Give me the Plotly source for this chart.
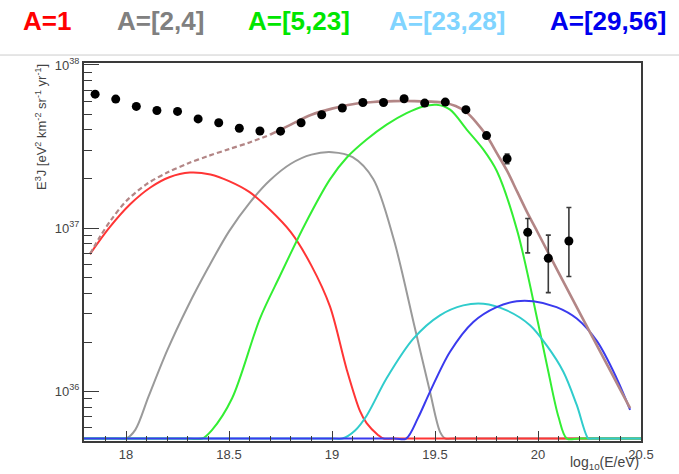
import numpy as np
import plotly.graph_objects as go

# ---------------- data ----------------
# measured points: log10(E/eV), E^3 J
data_x = [17.85, 17.95, 18.05, 18.15, 18.25, 18.35, 18.45, 18.55, 18.65, 18.75,
          18.85, 18.95, 19.05, 19.15, 19.25, 19.35, 19.45, 19.55, 19.65, 19.75,
          19.85, 19.95, 20.05, 20.15]
data_y = [6.62e37, 6.18e37, 5.57e37, 5.26e37, 5.19e37, 4.67e37, 4.42e37, 4.09e37, 3.94e37, 3.93e37,
          4.42e37, 4.95e37, 5.45e37, 5.89e37, 5.89e37, 6.21e37, 5.84e37, 5.92e37, 5.32e37, 3.69e37,
          2.66e37, 9.42e36, 6.53e36, 8.34e36]
data_err_up = [0, 0, 0, 0, 0, 0, 0, 0, 0, 0,
               0, 0, 0, 0, 0, 0, 0, 0, 0, 0,
               1.8e36, 2.04e36, 2.53e36, 5.03e36]
data_err_dn = [0, 0, 0, 0, 0, 0, 0, 0, 0, 0,
               0, 0, 0, 0, 0, 0, 0, 0, 0, 0,
               1.8e36, 2.37e36, 2.51e36, 3.29e36]

# model components (0 = below the plotted range)
red_x = [17.825, 17.92, 18.02, 18.12, 18.21, 18.31, 18.41, 18.50, 18.60, 18.70, 18.80,
         18.90, 18.99, 19.07, 19.136, 19.168, 19.223, 19.25, 19.30, 20.5]
red_y = [6.93e36, 1.01e37, 1.40e37, 1.78e37, 2.05e37, 2.19e37, 2.13e37, 1.94e37, 1.66e37,
         1.29e37, 9.44e36, 5.89e36, 3.31e36, 1.38e36, 7.55e35, 6.38e35, 5.40e35, 0, 0, 0]

gray_x = [17.795, 17.95, 18.0, 18.045, 18.11, 18.2, 18.3, 18.4, 18.5, 18.6, 18.7, 18.8,
          18.9, 19.0, 19.1, 19.2, 19.3, 19.4, 19.475, 19.525, 19.55, 19.6, 20.5]
gray_y = [0, 0, 0, 5.8e35, 9.33e35, 1.78e36, 3.31e36, 5.75e36, 9.55e36, 1.43e37, 1.97e37, 2.48e37,
          2.82e37, 2.92e37, 2.72e37, 2.0e37, 8.51e36, 2.51e36, 1.0e36, 5.62e35, 0, 0, 0]

green_x = [17.795, 18.3, 18.37, 18.417, 18.515, 18.65, 18.748, 18.869, 18.99, 19.071, 19.168,
           19.265, 19.362, 19.443, 19.508, 19.573, 19.654, 19.735, 19.8, 19.9, 20.0, 20.05,
           20.1, 20.14, 20.2, 20.5]
green_y = [0, 0, 0, 5.78e35, 9.06e35, 2.79e36, 5.12e36, 1.057e37, 1.99e37, 2.70e37, 3.49e37,
           4.31e37, 5.07e37, 5.57e37, 5.70e37, 5.32e37, 4.02e37, 3.03e37, 2.24e37, 9.55e36,
           2.63e36, 1.32e36, 6.92e35, 0, 0, 0]

cyan_x = [17.795, 19.0, 19.05, 19.112, 19.168, 19.265, 19.395, 19.524, 19.637, 19.735, 19.848,
          19.961, 20.042, 20.123, 20.188, 20.244, 20.26, 20.3, 20.5]
cyan_y = [0, 0, 0, 5.75e35, 7.08e35, 1.20e36, 2.10e36, 2.92e36, 3.36e36, 3.44e36, 3.13e36,
          2.54e36, 1.91e36, 1.318e36, 8.24e35, 5.05e35, 0, 0, 0]

blue_x = [17.795, 19.3, 19.36, 19.417, 19.476, 19.573, 19.686, 19.799, 19.896, 19.977, 20.09,
          20.188, 20.287, 20.382, 20.447]
blue_y = [0, 0, 0, 6.84e35, 9.95e35, 1.746e36, 2.66e36, 3.28e36, 3.56e36, 3.56e36, 3.28e36,
          2.79e36, 2.02e36, 1.20e36, 7.69e35]

total_x = [17.825, 17.875, 17.925, 18.0, 18.1, 18.2, 18.3, 18.4, 18.5, 18.6, 18.7,
           18.8, 18.9, 19.0, 19.1, 19.2, 19.3, 19.4, 19.5, 19.55, 19.6, 19.65, 19.7, 19.75,
           19.8, 19.85, 19.9, 19.95, 20.0, 20.1, 20.2, 20.3, 20.4, 20.447]
total_y = [6.93e36, 8.91e36, 1.11e37, 1.46e37, 1.86e37, 2.19e37, 2.49e37, 2.77e37, 3.05e37, 3.35e37, 3.74e37,
           4.31e37, 4.95e37, 5.40e37, 5.75e37, 5.93e37, 6.0e37, 6.0e37, 5.94e37, 5.85e37, 5.6e37, 5.16e37, 4.45e37, 3.69e37,
           2.88e37, 2.24e37, 1.66e37, 1.23e37, 9.33e36, 5.33e36, 3.07e36, 1.77e36, 1.02e36, 7.87e35]
total_fit_start = 18.7   # dashed below, solid above

legend_labels = ["A=1", "A=[2,4]", "A=[5,23]", "A=[23,28]", "A=[29,56]"]
legend_colors = ["#ff0000", "#808080", "#00e600", "#80d4ff", "#0000ee"]

x_ticks = [18, 18.5, 19, 19.5, 20, 20.5]
x_ticktext = ["18", "18.5", "19", "19.5", "20", "20.5"]
y_ticks = [1e36, 1e37, 1e38]
y_ticktext = ["10<sup>36</sup>", "10<sup>37</sup>", "10<sup>38</sup>"]

# ---------------- figure ----------------
X_RANGE = [17.796, 20.5]
Y_RANGE = [35.695, 38.012]
FLOOR = 10 ** 35.71   # curves below range are drawn along the bottom edge (as ROOT does)

def clamp(v):
    return np.maximum(np.array(v, dtype=float), FLOOR)

fig = go.Figure()

curve_w = 2
for xs, ys, col in [(gray_x, gray_y, "#9a9a9a"),
                    (red_x, red_y, "#ff3535"),
                    (green_x, green_y, "#33ee33"),
                    (cyan_x, cyan_y, "#30cccc"),
                    (blue_x, blue_y, "#3a3aee")]:
    fig.add_trace(go.Scatter(x=xs, y=clamp(ys), mode="lines",
                             line=dict(color=col, width=curve_w, shape="spline", smoothing=0.9),
                             hoverinfo="skip", showlegend=False))

tx = np.array(total_x)
ty = np.array(total_y)
lo = tx <= total_fit_start
hi = tx >= total_fit_start
brown = "#b38686"
fig.add_trace(go.Scatter(x=tx[lo], y=ty[lo], mode="lines",
                         line=dict(color=brown, width=2.2, dash="5px,3px", shape="spline", smoothing=0.9),
                         showlegend=False, hoverinfo="skip"))
fig.add_trace(go.Scatter(x=tx[hi], y=ty[hi], mode="lines",
                         line=dict(color=brown, width=2.6, shape="spline", smoothing=0.9),
                         showlegend=False, hoverinfo="skip"))

fig.add_trace(go.Scatter(x=data_x, y=data_y, mode="markers",
                         marker=dict(color="black", size=9),
                         error_y=dict(type="data", array=data_err_up, arrayminus=data_err_dn,
                                      symmetric=False, color="#3a3a3a", thickness=1.6, width=2.5),
                         showlegend=False))

axis_common = dict(showline=True, linecolor="#3a3a3a", linewidth=2, mirror=True,
                   showgrid=False, zeroline=False, ticks="inside", tickcolor="#3a3a3a",
                   tickwidth=1, tickfont=dict(family="Liberation Sans, Arial", size=13, color="#444"))

fig.update_xaxes(range=X_RANGE, tickvals=x_ticks, ticktext=x_ticktext, ticklen=10,
                 minor=dict(tickvals=list(np.round(np.arange(17.8, 20.51, 0.1), 2)),
                            ticks="inside", ticklen=5, tickcolor="#3a3a3a", tickwidth=1),
                 **axis_common)
y_minor = [k * 10.0 ** d for d in (35, 36, 37) for k in range(2, 10)]
fig.update_yaxes(type="log", range=Y_RANGE, tickvals=y_ticks, ticktext=y_ticktext, ticklen=15,
                 minor=dict(tickvals=y_minor, ticks="inside", ticklen=8, tickcolor="#3a3a3a", tickwidth=1),
                 **axis_common)

W, H = 679, 474
L, R, T, B = 84, 38, 63, 31
pw, ph = W - L - R, H - T - B

def px(xp):
    return (xp - L) / pw

def py(yp):
    return 1 - (yp - T) / ph

annotations = []
for lab, col, cx in zip(legend_labels, legend_colors, [47, 160, 299, 447, 608]):
    annotations.append(dict(text="<b>%s</b>" % lab, x=px(cx), y=py(21), xref="paper", yref="paper",
                            xanchor="center", yanchor="middle", showarrow=False,
                            font=dict(family="Liberation Sans, Arial", size=26, color=col)))
annotations.append(dict(text="E<sup>3</sup>J [eV<sup>2</sup> km<sup>-2</sup> sr<sup>-1</sup> yr<sup>-1</sup>]",
                        textangle=-90, x=px(41), y=py(62), xref="paper", yref="paper",
                        xanchor="center", yanchor="top", showarrow=False,
                        font=dict(family="Liberation Sans, Arial", size=13, color="#444")))
annotations.append(dict(text="log<sub>10</sub>(E/eV)", x=1.0, y=py(465), xref="paper", yref="paper",
                        xanchor="right", yanchor="middle", showarrow=False,
                        font=dict(family="Liberation Sans, Arial", size=14, color="#444")))

fig.update_layout(width=W, height=H, margin=dict(l=L, r=R, t=T, b=B),
                  paper_bgcolor="white", plot_bgcolor="white",
                  annotations=annotations,
                  shapes=[dict(type="line", xref="paper", yref="paper",
                               x0=px(0), x1=px(W), y0=py(55), y1=py(55),
                               line=dict(color="#cccccc", width=1))])

fig.write_html("out.html")
